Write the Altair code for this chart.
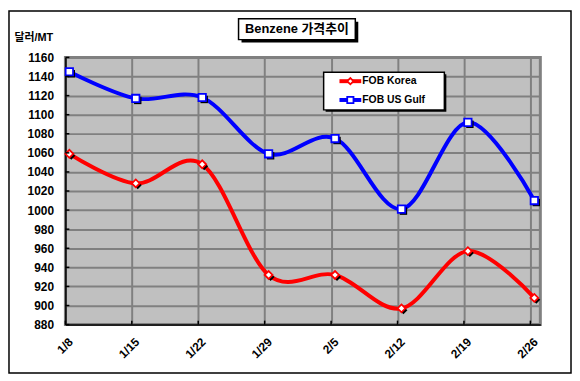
import altair as alt
import pandas as pd

# ---- data ----
dates = ['1/8', '1/15', '1/22', '1/29', '2/5', '2/12', '2/19', '2/26']
series_names = ['FOB Korea', 'FOB US Gulf']
fob_korea = [1059, 1028, 1048, 932, 932, 897, 957, 908]
fob_us_gulf = [1145, 1117, 1118, 1059, 1075, 1001, 1092, 1010]
y_ticks = list(range(880, 1161, 20))
title_text = 'Benzene 가격추이'
y_title = '달러/MT'
colors = ['#FF0000', '#0000FF']
shapes = ['diamond', 'square']

rows = []
for i, d in enumerate(dates):
    rows.append({'idx': i, 'date': d, 'series': series_names[0], 'value': fob_korea[i]})
    rows.append({'idx': i, 'date': d, 'series': series_names[1], 'value': fob_us_gulf[i]})
df = pd.DataFrame(rows)

W, H = 480, 270
FONT = 'Liberation Sans, Arial, Noto Sans CJK KR'

label_expr = "[" + ",".join(f"'{d}'" for d in dates) + "][datum.value]"

x_scale = alt.Scale(domain=[0, 7.15], nice=False, zero=False)
y_scale = alt.Scale(domain=[880, 1160], nice=False, zero=False)

x_enc = alt.X('idx:Q', scale=x_scale,
              axis=alt.Axis(values=list(range(len(dates))), tickCount=50, labelExpr=label_expr,
                            labelAngle=-45, labelAlign='right', labelBaseline='middle',
                            labelPadding=15, labelOffset=5, ticks=False, tickSize=0,
                            labelOverlap=False,
                            grid=True, gridColor='#808080', gridWidth=2,
                            domainColor='black', domainWidth=1.5,
                            labelFont=FONT, labelFontSize=12, labelFontWeight='bold',
                            labelColor='black', title=None))
y_enc = alt.Y('value:Q', scale=y_scale,
              axis=alt.Axis(values=y_ticks, tickCount=50, ticks=False, tickSize=0, format='d',
                            labelOverlap=False,
                            grid=True, gridColor='#808080', gridWidth=2,
                            domainColor='black', domainWidth=1.5,
                            labelFont=FONT, labelFontSize=12, labelFontWeight='bold',
                            labelColor='black', labelPadding=12,
                            title=y_title, titleAngle=0, titleX=-52, titleY=-20,
                            titleAlign='left', titleBaseline='middle',
                            titleFont=FONT, titleFontSize=11, titleFontWeight='bold',
                            titleColor='black'))

col_scale = alt.Scale(domain=series_names, range=colors)
shape_scale = alt.Scale(domain=series_names, range=shapes)
size_scale = alt.Scale(domain=series_names, range=[64, 56])

base = alt.Chart(df)

lines = base.mark_line(interpolate='cardinal', strokeWidth=4, xOffset=4).encode(
    x=x_enc, y=y_enc,
    color=alt.Color('series:N', scale=col_scale, legend=None),
    detail='series:N')

shadows = base.mark_point(filled=True, color='black', opacity=1, xOffset=6, yOffset=2).encode(
    x='idx:Q', y='value:Q',
    shape=alt.Shape('series:N', scale=shape_scale, legend=None),
    size=alt.Size('series:N', scale=size_scale, legend=None))

markers = base.mark_point(fill='white', fillOpacity=1, opacity=1, strokeWidth=1.8, xOffset=4).encode(
    x='idx:Q', y='value:Q',
    stroke=alt.Stroke('series:N', scale=col_scale, legend=None),
    shape=alt.Shape('series:N', scale=shape_scale, legend=None),
    size=alt.Size('series:N', scale=size_scale, legend=None))

# inward ticks
ytick_df = pd.DataFrame({'value': y_ticks})
yticks = alt.Chart(ytick_df).mark_rule(color='black', strokeWidth=1.5).encode(
    y='value:Q', x=alt.value(0), x2=alt.value(4))
xtick_df = pd.DataFrame({'idx': list(range(len(dates)))})
xticks = alt.Chart(xtick_df).mark_rule(color='black', strokeWidth=1.5).encode(
    x='idx:Q', y=alt.value(H), y2=alt.value(H - 4))

# outer frame
one = pd.DataFrame({'t': [title_text]})
frame = alt.Chart(one).mark_rect(fillOpacity=0, stroke='black', strokeWidth=1.5).encode(
    x=alt.value(-57), x2=alt.value(511), y=alt.value(-47), y2=alt.value(319))

# title box
t_shadow = alt.Chart(one).mark_rect(color='black').encode(
    x=alt.value(178), x2=alt.value(296), y=alt.value(-36), y2=alt.value(-15))
t_box = alt.Chart(one).mark_rect(fill='white', stroke='black', strokeWidth=1.5).encode(
    x=alt.value(175), x2=alt.value(293), y=alt.value(-39), y2=alt.value(-18))
t_text = alt.Chart(one).mark_text(font=FONT, fontSize=13, fontWeight='bold', color='black',
                                  align='center', baseline='middle').encode(
    x=alt.value(234), y=alt.value(-28.5), text='t:N')

# legend
l_shadow = alt.Chart(one).mark_rect(color='black').encode(
    x=alt.value(263), x2=alt.value(385), y=alt.value(17), y2=alt.value(55))
l_box = alt.Chart(one).mark_rect(fill='white', stroke='black', strokeWidth=1.5).encode(
    x=alt.value(261), x2=alt.value(383), y=alt.value(15), y2=alt.value(53))
legend_layers = [l_shadow, l_box]
for i, name in enumerate(series_names):
    ly = 24 + 19 * i
    ldf = pd.DataFrame({'s': [name]})
    legend_layers.append(alt.Chart(ldf).mark_rule(color=colors[i], strokeWidth=4).encode(
        x=alt.value(277), x2=alt.value(299), y=alt.value(ly)))
    legend_layers.append(alt.Chart(ldf).mark_point(shape=shapes[i], fill='white', fillOpacity=1,
                                                   stroke=colors[i], strokeWidth=1.8, opacity=1,
                                                   size=40).encode(
        x=alt.value(288), y=alt.value(ly)))
    legend_layers.append(alt.Chart(ldf).mark_text(font=FONT, fontSize=10.5, fontWeight='bold',
                                                  color='black', align='left',
                                                  baseline='middle').encode(
        x=alt.value(300), y=alt.value(ly), text='s:N'))

chart = alt.layer(
    lines, shadows, markers, yticks, xticks, frame, t_shadow, t_box, t_text, *legend_layers
).properties(
    width=W, height=H,
    autosize=alt.AutoSizeParams(type='none'),
    padding={'left': 58, 'top': 48, 'right': 32, 'bottom': 51},
    background='white'
).configure_view(
    fill='#C0C0C0', stroke='#808080', strokeWidth=3
)

chart.save("out.html", embed_options={"renderer": "svg", "actions": False})
